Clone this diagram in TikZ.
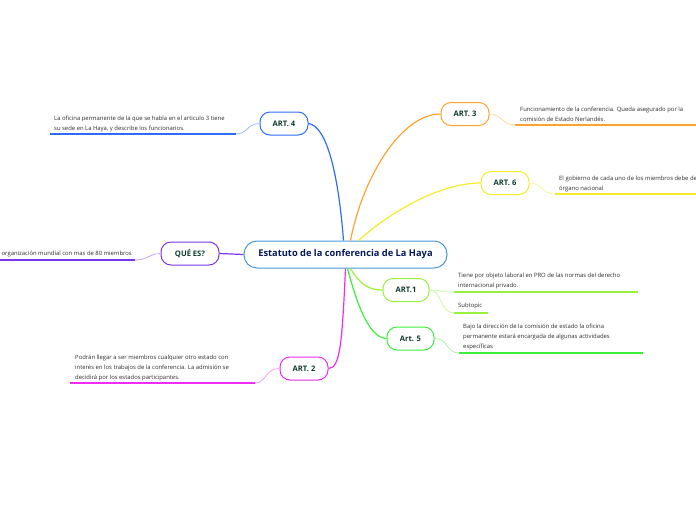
\documentclass[tikz,border=0pt]{standalone}
\usepackage{fontspec}
\setmainfont{Open Sans}
\usetikzlibrary{calc}
\definecolor{cblue}{HTML}{2F6BFF}
\definecolor{corange}{HTML}{FFA32E}
\definecolor{cyellow}{HTML}{F4EC2A}
\definecolor{cpurple}{HTML}{7A35E8}
\definecolor{clime}{HTML}{96F23C}
\definecolor{cgreen}{HTML}{3CEE3C}
\definecolor{cmagenta}{HTML}{F02CF0}
\definecolor{croot}{HTML}{4A9AD8}
\definecolor{ctopic}{HTML}{0E3B2E}
\definecolor{cnote}{HTML}{2E2E2E}
\tikzset{
  root/.style={draw=croot, line width=1pt, rounded corners=13pt, fill=white,
    minimum width=203pt, minimum height=27pt, text=ctopic!60!blue!70!black,
    font=\fontsize{9.3}{11}\selectfont\bfseries},
  topic/.style={draw=#1, line width=1pt, rounded corners=10pt, fill=white,
    minimum width=48pt, minimum height=23pt, text=ctopic,
    font=\fontsize{7.6}{9}\selectfont\bfseries},
  note/.style={align=left, inner sep=0pt, text=cnote,
    font=\fontsize{5.9}{9.8}\selectfont},
  branch/.style={draw=#1, line width=1.2pt},
  twig/.style={draw=#1!45, line width=0.8pt},
  rule/.style={draw=#1, line width=1.8pt}
}
\begin{document}
\begin{tikzpicture}[x=1pt,y=-1pt]
  \useasboundingbox (0,0) rectangle (696,520);

  \node[root] (root) at (345.5,254.5) {Estatuto de la conferencia de La Haya};

  \node[topic=cblue] (art4) at (284,123.5) {ART. 4};
  \node[topic=corange] (art3) at (465,114) {ART. 3};
  \node[topic=cyellow] (art6) at (505,183) {ART. 6};
  \node[topic=cpurple, minimum width=58pt] (quees) at (190,253.5) {QUÉ ES?};
  \node[topic=clime, minimum width=46pt] (art1) at (406,290) {ART.1};
  \node[topic=cgreen, minimum width=47pt] (art5) at (410.5,338.5) {Art. 5};
  \node[topic=cmagenta] (art2) at (304,368.5) {ART. 2};

  % branches from the root
  \draw[branch=cblue] ([xshift=-2pt]root.north) .. controls (338,170) and (326,126) .. (art4.east);
  \draw[branch=corange] ([xshift=5pt]root.north) .. controls (362,180) and (400,114) .. (art3.west);
  \draw[branch=cyellow] ([xshift=13pt]root.north) .. controls (390,212) and (440,183) .. (art6.west);
  \draw[branch=cpurple] (root.west) -- (quees.east);
  \draw[branch=clime] ([xshift=5pt]root.south) .. controls (360,284) and (368,290) .. (art1.west);
  \draw[branch=cgreen] ([xshift=2pt]root.south) .. controls (356,300) and (368,338) .. (art5.west);
  \draw[branch=cmagenta] (root.south) .. controls (342,345) and (340,368) .. (art2.east);

  % notes
  \coordinate (r4a) at (236,134);   \coordinate (r4b) at (50,134);
  \coordinate (r3a) at (515,125);   \coordinate (r3b) at (696,125);
  \coordinate (r6a) at (555,194);   \coordinate (r6b) at (696,194);
  \coordinate (rqa) at (135,260);   \coordinate (rqb) at (0,260);
  \coordinate (r1a) at (454,292);   \coordinate (r1b) at (638,292);
  \coordinate (rsa) at (454,313);   \coordinate (rsb) at (488,313);
  \coordinate (r5a) at (459,353);   \coordinate (r5b) at (643,353);
  \coordinate (r2a) at (255,383);   \coordinate (r2b) at (70,383);

  \draw[twig=cblue] (art4.west) .. controls (246,124) and (248,134) .. (r4a);
  \draw[rule=cblue] (r4a) -- (r4b);
  \node[note, anchor=south west] (n4) at (54,132)
    {La oficina permanente de la que se habla en el articulo 3 tiene\\su sede en La Haya, y describe los funcionarios.};

  \draw[twig=corange] (art3.east) .. controls (502,114) and (502,125) .. (r3a);
  \draw[rule=corange] (r3a) -- (r3b);
  \node[note, anchor=south west] (n3) at (520,122)
    {Funcionamiento de la conferencia. Queda asegurado por la\\comisión de Estado Nerlandés.};

  \draw[twig=cyellow] (art6.east) .. controls (542,183) and (542,194) .. (r6a);
  \draw[rule=cyellow] (r6a) -- (r6b);
  \node[note, anchor=south west] (n6) at (559,192)
    {El gobierno de cada uno de los miembros debe de\\órgano nacional};

  \draw[twig=cpurple] (quees.west) .. controls (148,254) and (148,260) .. (rqa);
  \draw[rule=cpurple] (rqa) -- (rqb);
  \node[note, anchor=south east] (nq) at (132,257)
    {organización mundial con mas de 80 miembros};

  \draw[twig=clime] (art1.east) .. controls (442,290) and (442,292) .. (r1a);
  \draw[rule=clime] (r1a) -- (r1b);
  \node[note, anchor=south west] (n1) at (458,289)
    {Tiene por objeto laboral en PRO de las normas del derecho\\internacional privado.};
  \draw[twig=clime] (art1.east) .. controls (442,290) and (440,313) .. (rsa);
  \draw[rule=clime] (rsa) -- (rsb);
  \node[note, anchor=south west] (ns) at (458,309) {Subtopic};

  \draw[twig=cgreen] (art5.east) .. controls (448,338) and (446,353) .. (r5a);
  \draw[rule=cgreen] (r5a) -- (r5b);
  \node[note, anchor=south west] (n5) at (463,350)
    {Bajo la dirección de la comisión de estado la oficina\\permanente estará encargada de algunas actividades\\específicas};

  \draw[twig=cmagenta] (art2.west) .. controls (266,368) and (266,383) .. (r2a);
  \draw[rule=cmagenta] (r2a) -- (r2b);
  \node[note, anchor=south west] (n2) at (75,381)
    {Podrán llegar a ser miembros cualquier otro estado con\\interés en los trabajos de la conferencia. La admisión se\\decidirá por los estados participantes.};
\end{tikzpicture}
\end{document}
